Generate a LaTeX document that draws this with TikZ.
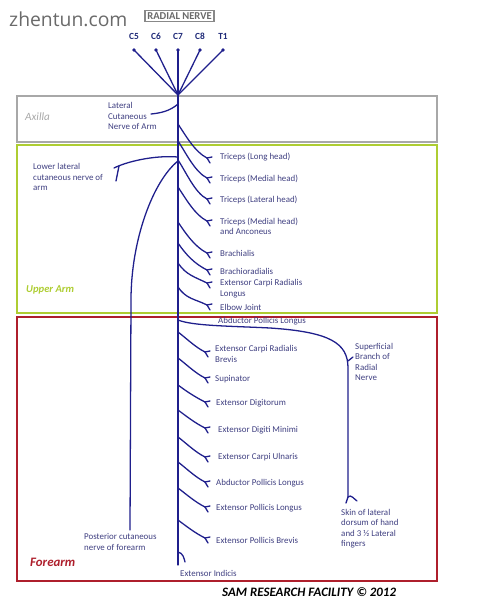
\documentclass[tikz,border=0pt]{standalone}
\usepackage{fontspec}
\setmainfont{Carlito}
\newfontfamily\sitefont{Open Sans}
\usepackage{tikz}
\definecolor{nerveBlue}{HTML}{1F1F8C}
\definecolor{labelBlue}{HTML}{3E3E80}
\definecolor{rootBlue}{HTML}{1F2A78}
\definecolor{axillaGrey}{HTML}{A8A8A8}
\definecolor{siteGrey}{HTML}{6A6A6A}
\definecolor{armGreen}{HTML}{AECD32}
\definecolor{foreRed}{HTML}{AE1F2C}
\newcommand{\nerveend}[1]{%
  \draw[nerve] (#1) -- ++(5,-1);
  \draw[nerve] (#1) -- ++(3,5);
}

\begin{document}
\begin{tikzpicture}[x=0.03cm, y=-0.03cm, font=\fontsize{7.6}{8.9}\selectfont,
  nerve/.style={draw=nerveBlue, line width=1.1pt, line cap=round},
  region/.style={line width=1.4pt},
  lbl/.style={anchor=west, text=labelBlue, align=left, inner sep=0pt},
  root/.style={font=\fontsize{8}{9}\selectfont\bfseries, text=rootBlue, inner sep=0pt},
  zonetitle/.style={anchor=west, font=\fontsize{9}{10}\selectfont\bfseries\itshape, inner sep=0pt}]
  \useasboundingbox (0,0) rectangle (487,600);
  % site mark and title
  \node[anchor=west, font=\sitefont\fontsize{16.5}{18}\selectfont, text=siteGrey, inner sep=0pt] (site) at (9,19) {zhentun.com};
  \node[draw=siteGrey!80, line width=1.6pt, font=\fontsize{9}{10}\selectfont\bfseries, text=siteGrey, inner sep=1.8pt] (title) at (179.5,16) {RADIAL NERVE};
  % regions
  \draw[region, draw=axillaGrey] (17,96) rectangle (437,142);
  \draw[region, draw=armGreen] (17,145) rectangle (437,313);
  \draw[region, draw=foreRed] (17,317) rectangle (437,581);
  \node[zonetitle, font=\fontsize{9.5}{10}\selectfont\itshape, text=axillaGrey] (axilla) at (25,117) {Axilla};
  \node[zonetitle, text=armGreen] (upperarm) at (26,290) {Upper Arm};
  \node[zonetitle, font=\fontsize{11}{12}\selectfont\bfseries\itshape, text=foreRed] (forearm) at (30,562) {Forearm};
  % roots and trunk
  \coordinate (plexus) at (178,95);
  \coordinate (trunkend) at (178,565);
  \foreach \r/\rx in {C5/134, C6/156, C7/178, C8/200, T1/223} {
    \node[root] (\r) at (\rx,36) {\r};
    \coordinate (\r dot) at (\rx,50);
    \fill[nerveBlue] (\r dot) circle (1.6pt);
    \draw[nerve] (\r dot) -- (plexus);
  }
  \draw[nerve] (plexus) -- (trunkend);
  % axilla branch
  \coordinate (lcab) at (178,104);
  \coordinate (lcae) at (151,114);
  \draw[nerve] (lcab) .. controls +(-8,7) and +(10,-1) .. (lcae);
  \node[lbl] (lcan) at (108,116) {Lateral\\Cutaneous\\Nerve of Arm};
  % upper arm, left side
  \coordinate (llcb) at (178,157);
  \coordinate (llce) at (114,168);
  \draw[nerve] (llcb) .. controls +(-25,-2) and +(12,-6) .. (llce);
  \draw[nerve] ([shift={(5,-2)}]llce) -- ++(-3,15);
  \node[lbl] (llcn) at (33,177) {Lower lateral\\cutaneous nerve of\\arm};
  \coordinate (pcfb) at (178,161);
  \coordinate (pcfm) at (131,300);
  \coordinate (pcfe) at (130,530);
  \draw[nerve] (pcfb) .. controls +(-25,20) and +(0,-60) .. (pcfm) -- (pcfe);
  \node[lbl] (pcfn) at (84,542) {Posterior cutaneous\\nerve of forearm};
  % upper arm, muscle branches
  \foreach \sy/\ey/\ty/\txt [count=\i] in {124/158/157/{Triceps (Long head)},
      141/178/179/{Triceps (Medial head)}, 160/199/200/{Triceps (Lateral head)},
      187/221/226.5/{Triceps (Medial head)\\and Anconeus}, 222/253/253/{Brachialis},
      243/270/271/{Brachioradialis}, 263/283/288.5/{Extensor Carpi Radialis\\Longus},
      287/305/307/{Elbow Joint}} {
    \coordinate (ua\i b) at (178,\sy);
    \coordinate (ua\i e) at (207,\ey);
    \draw[nerve] (ua\i b) .. controls +(8,12) and +(-12,-6) .. (ua\i e);
    \nerveend{ua\i e}
    \node[lbl] (ua\i) at (220,\ty) {\txt};
  }
  % forearm, superficial branch
  \coordinate (sbrb) at (178,320);
  \coordinate (sbrm) at (270,328);
  \coordinate (sbrc) at (348,368);
  \coordinate (skin) at (348,497);
  \draw[nerve] (sbrb) .. controls +(15,6) and +(-40,-2) .. (sbrm)
    .. controls +(60,4) and +(0,-25) .. (sbrc) -- (skin);
  \draw[nerve] (skin) -- ++(-2,6);
  \draw[nerve] (skin) .. controls +(3,-3) and +(-3,-2) .. ++(9,4);
  \draw[nerve] (348,361) -- ++(5,-4);
  \node[lbl] (apl) at (218,321) {Abductor Pollicis Longus};
  \node[lbl] (sbrn) at (355,362) {Superficial\\Branch of\\Radial\\Nerve};
  \node[lbl] (skinn) at (341,528.5) {Skin of lateral\\dorsum of hand\\and 3 ½ Lateral\\fingers};
  % forearm, muscle branches
  \foreach \sy/\ey/\ty/\tx/\txt [count=\i] in {332/352/354/215/{Extensor Carpi Radialis\\Brevis},
      358/378/379/215/{Supinator}, 385/402/403/216/{Extensor Digitorum},
      410/428/430/218/{Extensor Digiti Minimi}, 437/457/457/218/{Extensor Carpi Ulnaris},
      462/482/483/216/{Abductor Pollicis Longus}, 488/507/508/216/{Extensor Pollicis Longus},
      520/538/540/216/{Extensor Pollicis Brevis}} {
    \coordinate (fa\i b) at (178,\sy);
    \coordinate (fa\i e) at (205,\ey);
    \draw[nerve] (fa\i b) .. controls +(8,6) and +(-10,-5) .. (fa\i e);
    \nerveend{fa\i e}
    \node[lbl] (fa\i) at (\tx,\ty) {\txt};
  }
  \coordinate (indicis) at (178,552);
  \draw[nerve] (indicis) .. controls +(5,1) and +(-1,-4) .. ++(7,10);
  \node[lbl] (indn) at (180,573) {Extensor Indicis};
  % credit
  \node[anchor=west, font=\fontsize{11}{12}\selectfont\bfseries\itshape, inner sep=0pt] (credit) at (222,592) {SAM RESEARCH FACILITY © 2012};
\end{tikzpicture}
\end{document}
